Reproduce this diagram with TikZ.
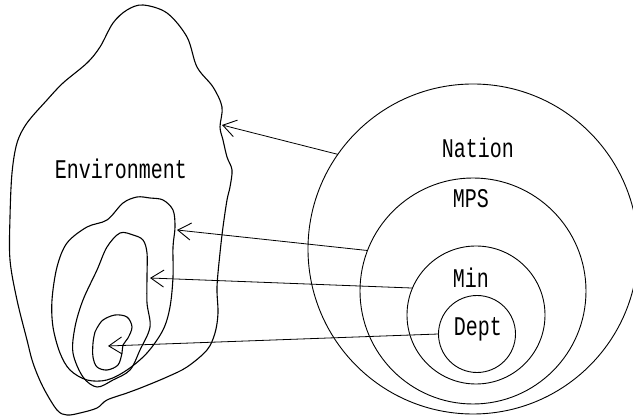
\documentclass[tikz,border=0pt]{standalone}
\usepackage{fontspec}
\setmonofont{Liberation Mono}
\usetikzlibrary{arrows.meta}
\newcommand{\tallt}[1]{\scalebox{1}[1.35]{\ttfamily\fontsize{20}{20}\selectfont #1}}
\tikzset{
  ring/.style={circle, draw, line width=0.9pt, inner sep=0pt, outer sep=0pt},
  blob/.style={line width=1.1pt, smooth cycle, tension=0.55},
  lbl/.style={inner sep=0pt},
  link/.style={line width=0.8pt, -{Straight Barb[length=13pt,width=17pt,line width=0.9pt]}},
}
\begin{document}
\begin{tikzpicture}[x=1pt,y=-1pt]
\useasboundingbox (0,0) rectangle (633,419);
% circles
\node[ring, minimum size=330pt] (nation) at (473,249) {};
\node[ring, minimum size=226pt] (mps) at (473,291) {};
\node[ring, minimum size=138pt] (min) at (476,315) {};
\node[ring, minimum size=77pt] (dept) at (477,334) {};
\node[lbl] (tnation) at (478,148) {\tallt{Nation}};
\node[lbl] (tmps) at (471,199) {\tallt{MPS}};
\node[lbl] (tmin) at (471,278) {\tallt{Min}};
\node[lbl] (tdept) at (478,329) {\tallt{Dept}};
% environment blobs
\draw[blob] plot coordinates {(143,5) (167,13) (187,37) (197,67) (213,87) (222,107) (220,127) (223,140) (227,157) (232,170) (230,187) (227,200) (223,227) (220,253) (217,287) (218,313) (215,333) (207,350) (187,367) (167,377) (143,387) (127,393) (107,400) (97,408) (80,413) (67,415) (57,410) (43,387) (33,363) (27,340) (17,300) (10,260) (10,217) (12,173) (17,143) (27,123) (47,100) (63,83) (87,63) (100,47) (113,23) (127,10)};
\draw[blob] plot coordinates {(150,198) (137,197) (123,203) (107,220) (87,227) (67,243) (57,267) (52,300) (53,327) (60,353) (70,370) (87,380) (107,380) (127,370) (147,353) (163,330) (170,307) (173,277) (173,247) (175,227) (173,210) (163,200)};
\draw[blob] plot coordinates {(133,235) (120,233) (107,247) (97,270) (83,300) (75,327) (73,353) (83,377) (97,387) (113,380) (130,370) (140,350) (150,327) (147,303) (147,277) (147,253) (143,240)};
\draw[blob] plot coordinates {(97,328) (103,320) (115,315) (127,317) (132,327) (128,338) (123,345) (122,353) (118,365) (107,370) (97,367) (93,357) (93,343) (95,332)};
\node[lbl] (tenv) at (121,169) {\tallt{Environment}};
% arrow targets
\coordinate (envtip) at (222,125);
\coordinate (mpstip) at (177,230);
\coordinate (mintip) at (150,278);
\coordinate (depttip) at (108,346);
% connectors
\draw[link] (nation.145.5) -- (envtip);
\draw[link] (mps.159) -- (mpstip);
\draw[link] (min.157) -- (mintip);
\draw[link] (dept.180) -- (depttip);
\end{tikzpicture}
\end{document}
